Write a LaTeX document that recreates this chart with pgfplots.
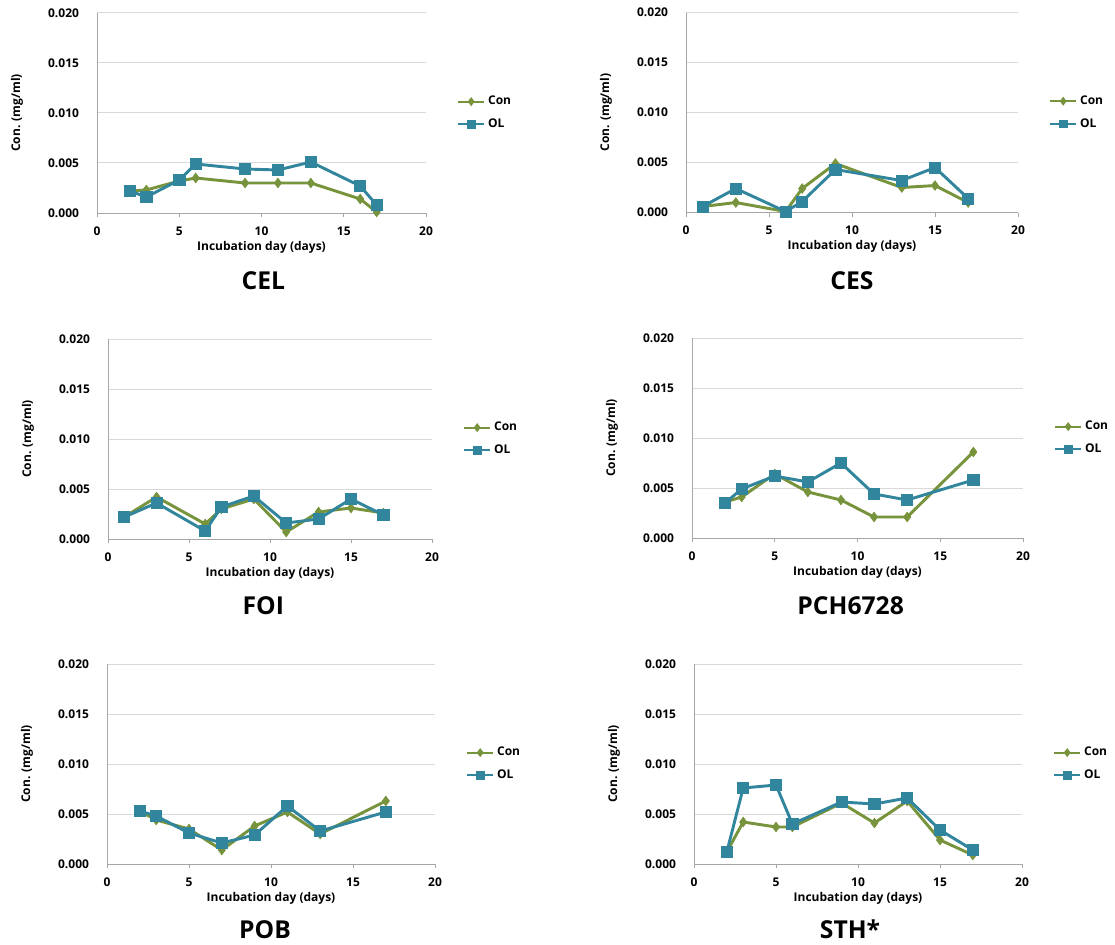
\documentclass[border=0pt]{standalone}
\usepackage{pgfplots}
\pgfplotsset{compat=1.18}
\usepackage{fontspec}
\setmainfont{Open Sans}
\definecolor{congreen}{HTML}{77933C}
\definecolor{olblue}{HTML}{31859C}
\definecolor{gridgray}{HTML}{D9D9D9}
\definecolor{axisgray}{HTML}{A6A6A6}
\newcommand{\smallfont}{\bfseries\fontsize{9}{10.5}\selectfont}
\pgfplotsset{
  panel/.style={
    scale only axis, height=150pt,
    xmin=0, xmax=20, ymin=0, ymax=0.02,
    xtick={0,5,10,15,20}, ytick={0,0.005,0.01,0.015,0.02},
    scaled y ticks=false,
    /pgf/number format/assume math mode=true,
    yticklabel style={/pgf/number format/.cd, fixed, fixed zerofill, precision=3, /tikz/.cd, xshift=-7pt},
    tick label style={font=\smallfont, text=black},
    ymajorgrids, major grid style={gridgray, line width=0.75pt},
    axis x line*=bottom, axis y line*=left,
    axis line style={axisgray, line width=0.75pt},
    tick align=outside,
    xtick style={axisgray, line width=0.75pt},
    major tick length=3pt,
    ytick style={draw=none},
    xlabel={Incubation day (days)}, ylabel={Con. (mg/ml)},
    label style={font=\smallfont},
    xlabel style={at={(axis description cs:0.5,0)}, anchor=center, yshift=-25.5pt},
    ylabel style={at={(axis description cs:0,0.5)}, anchor=center, yshift=60pt},
    xticklabel style={anchor=center, yshift=-10.5pt},
    legend style={at={(1,0.5)}, anchor=west, xshift=20pt, draw=none, fill=none, font=\smallfont, row sep=5pt},
    legend cell align=left,
    legend image code/.code={\draw[mark repeat=2, mark phase=2, #1, line width=1.5pt, mark options={scale=0.6}] plot coordinates {(0cm,0cm) (0.35cm,0cm) (0.7cm,0cm)};},
  },
  con/.style={congreen, line width=2.2pt, mark=diamond*, mark size=3.6pt, mark options={fill=congreen, draw=congreen, line width=0.5pt}},
  ol/.style={olblue, line width=2.2pt, mark=square*, mark size=4.2pt, mark options={fill=olblue, draw=olblue, line width=0.5pt}},
}
\begin{document}
\begin{tikzpicture}
\path[use as bounding box] (0pt,0pt) rectangle (836.25pt,-708.75pt);

% CEL
\begin{axis}[panel, width=246.75pt, at={(72.75pt,-159.75pt)}, anchor=south west]
\addplot[con] coordinates {(2,0.0022) (3,0.0023) (5,0.0032) (6,0.0035) (9,0.0030) (11,0.0030) (13,0.0030) (16,0.0014) (17,0.0001)};
\addplot[ol] coordinates {(2,0.0022) (3,0.0016) (5,0.0033) (6,0.0049) (9,0.0044) (11,0.0043) (13,0.0051) (16,0.0027) (17,0.0008)};
\legend{Con, OL}
\end{axis}

% CES
\begin{axis}[panel, width=249pt, at={(514.5pt,-159.4pt)}, anchor=south west]
\addplot[con] coordinates {(1,0.0006) (3,0.0010) (6,0.0001) (7,0.0024) (9,0.0049) (13,0.0025) (15,0.0027) (17,0.0010)};
\addplot[ol] coordinates {(1,0.0006) (3,0.0024) (6,0.0001) (7,0.0011) (9,0.0043) (13,0.0032) (15,0.0045) (17,0.0014)};
\legend{Con, OL}
\end{axis}

% FOI
\begin{axis}[panel, width=243pt, at={(81pt,-404.25pt)}, anchor=south west]
\addplot[con] coordinates {(1,0.0022) (3,0.0042) (6,0.0015) (7,0.0030) (9,0.0040) (11,0.0007) (13,0.0027) (15,0.0031) (17,0.0026)};
\addplot[ol] coordinates {(1,0.0022) (3,0.0036) (6,0.0008) (7,0.0032) (9,0.0043) (11,0.0016) (13,0.0020) (15,0.0040) (17,0.0024)};
\legend{Con, OL}
\end{axis}

% PCH6728
\begin{axis}[panel, width=248.25pt, at={(519pt,-403.5pt)}, anchor=south west]
\addplot[con] coordinates {(2,0.0036) (3,0.0041) (5,0.0064) (7,0.0046) (9,0.0038) (11,0.0021) (13,0.0021) (17,0.0086)};
\addplot[ol] coordinates {(2,0.0035) (3,0.0049) (5,0.0062) (7,0.0056) (9,0.0075) (11,0.0044) (13,0.0038) (17,0.0058)};
\legend{Con, OL}
\end{axis}

% POB
\begin{axis}[panel, width=246pt, at={(80.25pt,-648pt)}, anchor=south west]
\addplot[con] coordinates {(2,0.0053) (3,0.0044) (5,0.0035) (7,0.0014) (9,0.0038) (11,0.0052) (13,0.0030) (17,0.0063)};
\addplot[ol] coordinates {(2,0.0053) (3,0.0048) (5,0.0031) (7,0.0021) (9,0.0029) (11,0.0058) (13,0.0033) (17,0.0052)};
\legend{Con, OL}
\end{axis}

% STH*
\begin{axis}[panel, width=246pt, at={(520.5pt,-648pt)}, anchor=south west]
\addplot[con] coordinates {(2,0.0012) (3,0.0042) (5,0.0037) (6,0.0037) (9,0.0061) (11,0.0041) (13,0.0063) (15,0.0024) (17,0.0009)};
\addplot[ol] coordinates {(2,0.0012) (3,0.0076) (5,0.0079) (6,0.0040) (9,0.0062) (11,0.0060) (13,0.0066) (15,0.0034) (17,0.0014)};
\legend{Con, OL}
\end{axis}

\begin{scope}[every node/.style={font=\bfseries\fontsize{18.5}{21}\selectfont, anchor=center, inner sep=0pt}]
\node at (197.5pt,-210.75pt) {CEL};
\node at (639pt,-210.75pt) {CES};
\node at (197.5pt,-454pt) {FOI};
\node at (638pt,-454pt) {PCH6728};
\node at (198.75pt,-697pt) {POB};
\node at (637.5pt,-697pt) {STH*};
\end{scope}
\end{tikzpicture}
\end{document}
